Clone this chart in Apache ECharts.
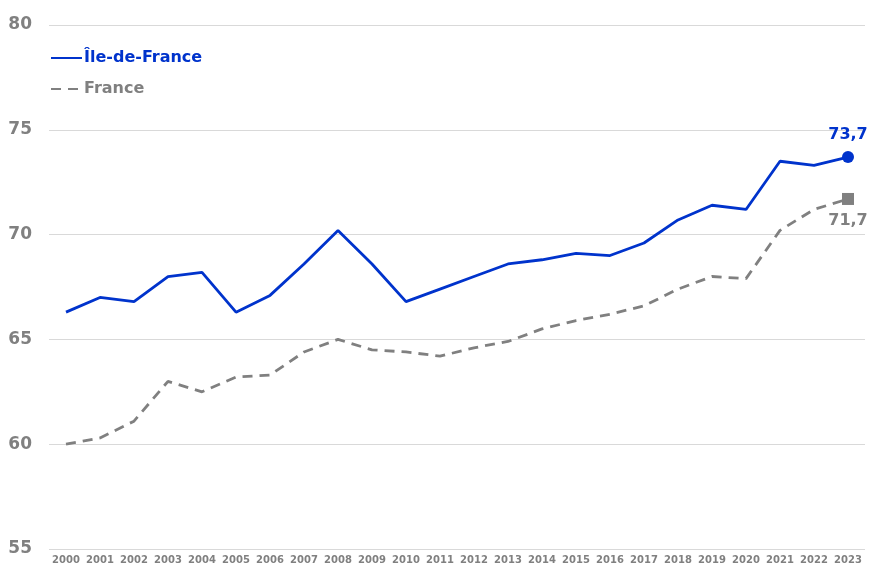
<!DOCTYPE html>
<html>
<head>
<meta charset="utf-8">
<script src="https://cdn.jsdelivr.net/npm/echarts@6/dist/echarts.min.js"></script>
<style>
  html, body { margin: 0; padding: 0; background: #fff; }
  #chart { width: 869px; height: 567px; }
</style>
</head>
<body>
<div id="chart"></div>
<script>
// données
const years = ['2000', '2001', '2002', '2003', '2004', '2005', '2006', '2007',
  '2008', '2009', '2010', '2011', '2012', '2013', '2014', '2015', '2016',
  '2017', '2018', '2019', '2020', '2021', '2022', '2023'];
const idf = [66.3, 67.0, 66.8, 68.0, 68.2, 66.3, 67.1, 68.6, 70.2, 68.6, 66.8,
  67.4, 68.0, 68.6, 68.8, 69.1, 69.0, 69.6, 70.7, 71.4, 71.2, 73.5, 73.3, 73.7];
const france = [60.0, 60.3, 61.1, 63.0, 62.5, 63.2, 63.3, 64.4, 65.0, 64.5, 64.4,
  64.2, 64.6, 64.9, 65.5, 65.9, 66.2, 66.6, 67.4, 68.0, 67.9, 70.2, 71.2, 71.7];

const BLUE = '#0033CC';
const GREY = '#808080';
const FONT = 'DejaVu Sans';

// seul le dernier point porte un marqueur et une étiquette
function withLastPoint(values, symbol, size, color, pos) {
  return values.map((v, i) => i < values.length - 1 ? v : {
    value: v, symbol: symbol, symbolSize: size,
    itemStyle: { color: color },
    label: {
      show: true, position: pos, distance: 8,
      formatter: p => p.value.toFixed(1).replace('.', ','),
      color: color, fontFamily: FONT, fontWeight: 'bold', fontSize: 16
    }
  });
}

const chart = echarts.init(document.getElementById('chart'));
chart.setOption({
  animation: false,
  grid: { left: 49, right: 4, top: 25, bottom: 18 },
  legend: {
    orient: 'vertical', left: 50, top: 50, padding: 0,
    itemWidth: 31, itemHeight: 14, itemGap: 15,
    itemStyle: { opacity: 0 },
    textStyle: { fontFamily: FONT, fontWeight: 'bold', fontSize: 16, padding: [0, 0, 0, -3] },
    data: [
      { name: 'Île-de-France', textStyle: { color: BLUE } },
      { name: 'France', textStyle: { color: GREY } }
    ]
  },
  xAxis: {
    type: 'category', data: years, boundaryGap: true,
    axisLine: { show: false }, axisTick: { show: false },
    axisLabel: { interval: 0, color: GREY, fontFamily: FONT, fontWeight: 'bold', fontSize: 10, margin: 6 }
  },
  yAxis: {
    type: 'value', min: 55, max: 80, interval: 5,
    axisLine: { show: false }, axisTick: { show: false },
    splitLine: { lineStyle: { color: '#d9d9d9', width: 1 } },
    axisLabel: { color: GREY, fontFamily: FONT, fontWeight: 'bold', fontSize: 17, margin: 17 }
  },
  series: [
    {
      name: 'Île-de-France', type: 'line', symbol: 'none',
      lineStyle: { color: BLUE, width: 2.8 },
      itemStyle: { color: BLUE },
      data: withLastPoint(idf, 'circle', 12, BLUE, 'top'),
      z: 3
    },
    {
      name: 'France', type: 'line', symbol: 'none',
      lineStyle: { color: GREY, width: 2.8, type: [10, 7] },
      itemStyle: { color: GREY },
      data: withLastPoint(france, 'rect', 12, GREY, 'bottom'),
      z: 2
    }
  ]
});
</script>
</body>
</html>
